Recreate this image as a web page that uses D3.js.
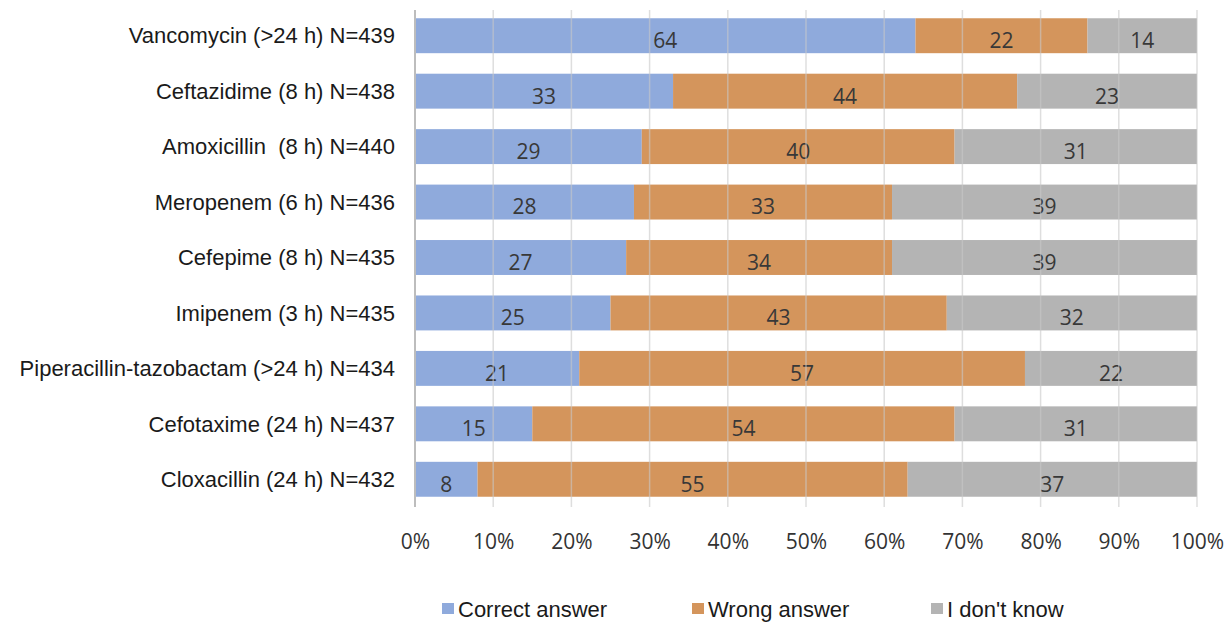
<!DOCTYPE html>
<html>
<head>
<meta charset="utf-8">
<script src="https://cdn.jsdelivr.net/npm/d3@7"></script>
<style>
  body { margin: 0; background: #fff; }
  svg { display: block; }
</style>
</head>
<body>
<div id="chart"></div>
<script>
var categories = [
  "Vancomycin (>24 h) N=439",
  "Ceftazidime (8 h) N=438",
  "Amoxicillin  (8 h) N=440",
  "Meropenem (6 h) N=436",
  "Cefepime (8 h) N=435",
  "Imipenem (3 h) N=435",
  "Piperacillin-tazobactam (>24 h) N=434",
  "Cefotaxime (24 h) N=437",
  "Cloxacillin (24 h) N=432"
];
var correct = [64, 33, 29, 28, 27, 25, 21, 15, 8];
var wrong = [22, 44, 40, 33, 34, 43, 57, 54, 55];
var dontKnow = [14, 23, 31, 39, 39, 32, 22, 31, 37];
var seriesNames = ["Correct answer", "Wrong answer", "I don't know"];
var seriesColors = ["#8faadc", "#d4955c", "#b4b4b4"];
var ticks = [0, 10, 20, 30, 40, 50, 60, 70, 80, 90, 100];

var width = 1229, height = 622;
var margin = {top: 8, left: 415, right: 32, bottom: 115};

var svg = d3.select("#chart").append("svg")
    .attr("width", width)
    .attr("height", height);

var x = d3.scaleLinear()
    .domain([0, 100])
    .range([margin.left, width - margin.right]);

var y = d3.scaleBand()
    .domain(categories)
    .range([margin.top, height - margin.bottom])
    .paddingInner(0.37)
    .paddingOuter(0.185);

// stack the three series
var rows = categories.map(function(c, i) {
  return {cat: c, s0: correct[i], s1: wrong[i], s2: dontKnow[i]};
});
var stack = d3.stack().keys(["s0", "s1", "s2"]);
var layers = stack(rows);

var g = svg.append("g");

var layer = g.selectAll(".layer")
    .data(layers)
  .enter().append("g")
    .attr("class", "layer")
    .style("fill", function(d, i) { return seriesColors[i]; });

layer.selectAll("rect")
    .data(function(d) { return d; })
  .enter().append("rect")
    .attr("x", function(d) { return x(d[0]); })
    .attr("y", function(d) { return y(d.data.cat); })
    .attr("width", function(d) { return x(d[1]) - x(d[0]); })
    .attr("height", y.bandwidth());

// gridlines sit over the bars, faint
var yBottom = height - margin.bottom;
g.selectAll(".grid")
    .data(ticks.slice(1))
  .enter().append("line")
    .attr("class", "grid")
    .attr("x1", function(d) { return x(d); })
    .attr("x2", function(d) { return x(d); })
    .attr("y1", margin.top + 2)
    .attr("y2", yBottom)
    .style("stroke", "#c8c8c8")
    .style("stroke-opacity", 0.6)
    .style("stroke-width", 1.5);

g.append("line")
    .attr("x1", x(0)).attr("x2", x(0))
    .attr("y1", margin.top + 2).attr("y2", yBottom)
    .style("stroke", "#bdbdbd")
    .style("stroke-width", 2);

// value labels
layer.selectAll("text")
    .data(function(d) { return d; })
  .enter().append("text")
    .attr("x", function(d) { return (x(d[0]) + x(d[1])) / 2; })
    .attr("y", function(d) { return y(d.data.cat) + y.bandwidth() / 2 + 5; })
    .attr("dy", "0.35em")
    .attr("text-anchor", "middle")
    .style("font-family", "'Open Sans', 'Liberation Sans', sans-serif")
    .style("font-size", "21px")
    .style("fill", "#383838")
    .text(function(d) { return d[1] - d[0]; });

// category axis
var yAxis = d3.axisLeft(y).tickSize(0).tickPadding(20);
var ya = svg.append("g")
    .attr("transform", "translate(" + x(0) + ",0)")
    .call(yAxis);
ya.select(".domain").remove();
ya.selectAll("text")
    .attr("dy", "0.35em")
    .style("white-space", "pre")
    .style("font-family", "'Liberation Sans', Arial, sans-serif")
    .style("font-size", "22px")
    .style("fill", "#1a1a1a");

// percent axis
var xAxis = d3.axisBottom(x)
    .tickValues(ticks)
    .tickSize(0)
    .tickPadding(27)
    .tickFormat(function(d) { return d + "%"; });
var xa = svg.append("g")
    .attr("transform", "translate(0," + yBottom + ")")
    .call(xAxis);
xa.select(".domain").remove();
xa.selectAll("text")
    .style("font-family", "'Open Sans', 'Liberation Sans', sans-serif")
    .style("font-size", "21px")
    .style("fill", "#333");

// legend
var legendX = [442, 692, 931];
var legend = svg.append("g")
    .selectAll("g")
    .data(seriesNames)
  .enter().append("g")
    .attr("transform", function(d, i) { return "translate(" + legendX[i] + ",609)"; });

legend.append("rect")
    .attr("x", 0)
    .attr("y", -6)
    .attr("width", 12)
    .attr("height", 11)
    .style("fill", function(d, i) { return seriesColors[i]; });

legend.append("text")
    .attr("x", 16)
    .attr("dy", "0.35em")
    .style("font-family", "'Liberation Sans', Arial, sans-serif")
    .style("font-size", "22px")
    .style("fill", "#1a1a1a")
    .text(function(d) { return d; });
</script>
</body>
</html>
